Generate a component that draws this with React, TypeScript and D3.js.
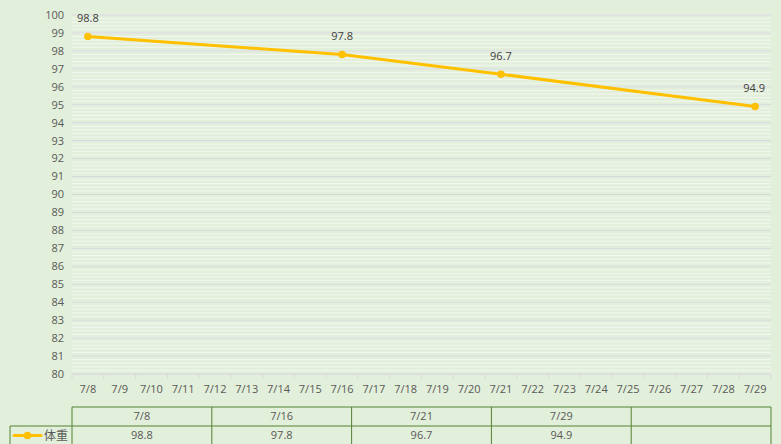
import React from "react";
import * as d3 from "d3";

const categories = ["7/8","7/9","7/10","7/11","7/12","7/13","7/14","7/15","7/16","7/17","7/18","7/19","7/20","7/21","7/22","7/23","7/24","7/25","7/26","7/27","7/28","7/29"];
const pointDates = ["7/8", "7/16", "7/21", "7/29"];
const pointValues = [98.8, 97.8, 96.7, 94.9];
const seriesName = "体重";
const yTicks = d3.range(80, 101, 1);
const yMinorTicks = d3.range(80, 100.01, 0.2);

const W = 781, H = 444;
const left = 72, right = 771, top = 15, bottom = 374;
const font = "'Open Sans', 'Noto Sans', sans-serif";
const textColor = "#595959";

export default function App() {
  const x = d3.scaleBand().domain(categories).range([left, right]).padding(0);
  const y = d3.scaleLinear().domain([80, 100]).range([bottom, top]);
  const cx = (c: string) => (x(c) as number) + x.bandwidth() / 2;
  const pts = pointDates.map((d, i) => [cx(d), y(pointValues[i])] as [number, number]);
  const line = d3.line()(pts) as string;

  const tableTop = 407, rowH = 19;
  const nCols = 5;
  const colW = (right - left) / nCols;
  const colX = d3.range(nCols + 1).map((i) => left + i * colW);
  const border = "#548235";

  return (
    <svg width={W} height={H} style={{ position: "absolute", left: 0, top: 0, display: "block" }}>
      <rect x={0} y={0} width={W} height={H} fill="#e2efda" />
      {yMinorTicks.map((v, i) => (
        <line key={"m" + i} x1={left} x2={right} y1={y(v)} y2={y(v)} stroke="#f4f7f2" strokeWidth={1} />
      ))}
      {yTicks.map((v) => (
        <line key={"g" + v} x1={left} x2={right} y1={y(v)} y2={y(v)} stroke="#d6d6dc" strokeWidth={1} />
      ))}
      {yTicks.map((v) => (
        <text key={"yl" + v} x={64} y={y(v)} dy="0.35em" textAnchor="end" fontFamily={font} fontSize={11} fill={textColor}>{v}</text>
      ))}
      <line x1={left} x2={right} y1={bottom} y2={bottom} stroke="#d9d9d9" strokeWidth={1} />
      {d3.range(categories.length + 1).map((i) => {
        const xx = left + i * x.bandwidth();
        return <line key={"t" + i} x1={xx} x2={xx} y1={bottom} y2={bottom + 5} stroke="#d9d9d9" strokeWidth={1} />;
      })}
      {categories.map((c) => (
        <text key={"xl" + c} x={cx(c)} y={389} dy="0.35em" textAnchor="middle" fontFamily={font} fontSize={11} fill={textColor}>{c}</text>
      ))}
      <path d={line} fill="none" stroke="#ffc000" strokeWidth={3} strokeLinejoin="round" strokeLinecap="round" />
      {pts.map((p, i) => (
        <circle key={"c" + i} cx={p[0]} cy={p[1]} r={3.8} fill="#ffc000" />
      ))}
      {pts.map((p, i) => (
        <text key={"dl" + i} x={i === pts.length - 1 ? p[0] - 1 : p[0]} y={p[1] - 18} dy="0.35em" textAnchor="middle" fontFamily={font} fontSize={11} fill="#404040">{pointValues[i].toFixed(1)}</text>
      ))}
      {/* data table */}
      <g stroke={border} strokeWidth={1} fill="none">
        <line x1={left} x2={right} y1={tableTop} y2={tableTop} />
        <line x1={10} x2={right} y1={tableTop + rowH} y2={tableTop + rowH} />
        <line x1={10} x2={10} y1={tableTop + rowH} y2={H} />
        {colX.map((xx, i) => (
          <line key={"cv" + i} x1={xx} x2={xx} y1={tableTop} y2={H} />
        ))}
      </g>
      {colX.slice(0, nCols).map((xx, i) => (
        <g key={"cell" + i}>
          {i < pointDates.length && (
            <>
              <text x={xx + colW / 2} y={tableTop + rowH / 2} dy="0.35em" textAnchor="middle" fontFamily={font} fontSize={11} fill={textColor}>{pointDates[i]}</text>
              <text x={xx + colW / 2} y={tableTop + rowH * 1.5} dy="0.35em" textAnchor="middle" fontFamily={font} fontSize={11} fill={textColor}>{pointValues[i].toFixed(1)}</text>
            </>
          )}
        </g>
      ))}
      <line x1={14} x2={41} y1={tableTop + rowH * 1.5} y2={tableTop + rowH * 1.5} stroke="#ffc000" strokeWidth={3} strokeLinecap="round" />
      <circle cx={27.5} cy={tableTop + rowH * 1.5} r={3.8} fill="#ffc000" />
      <text x={44} y={tableTop + rowH * 1.5} dy="0.38em" fontFamily="'Noto Sans CJK SC', sans-serif" fontSize={12} fill={textColor}>{seriesName}</text>
    </svg>
  );
}
